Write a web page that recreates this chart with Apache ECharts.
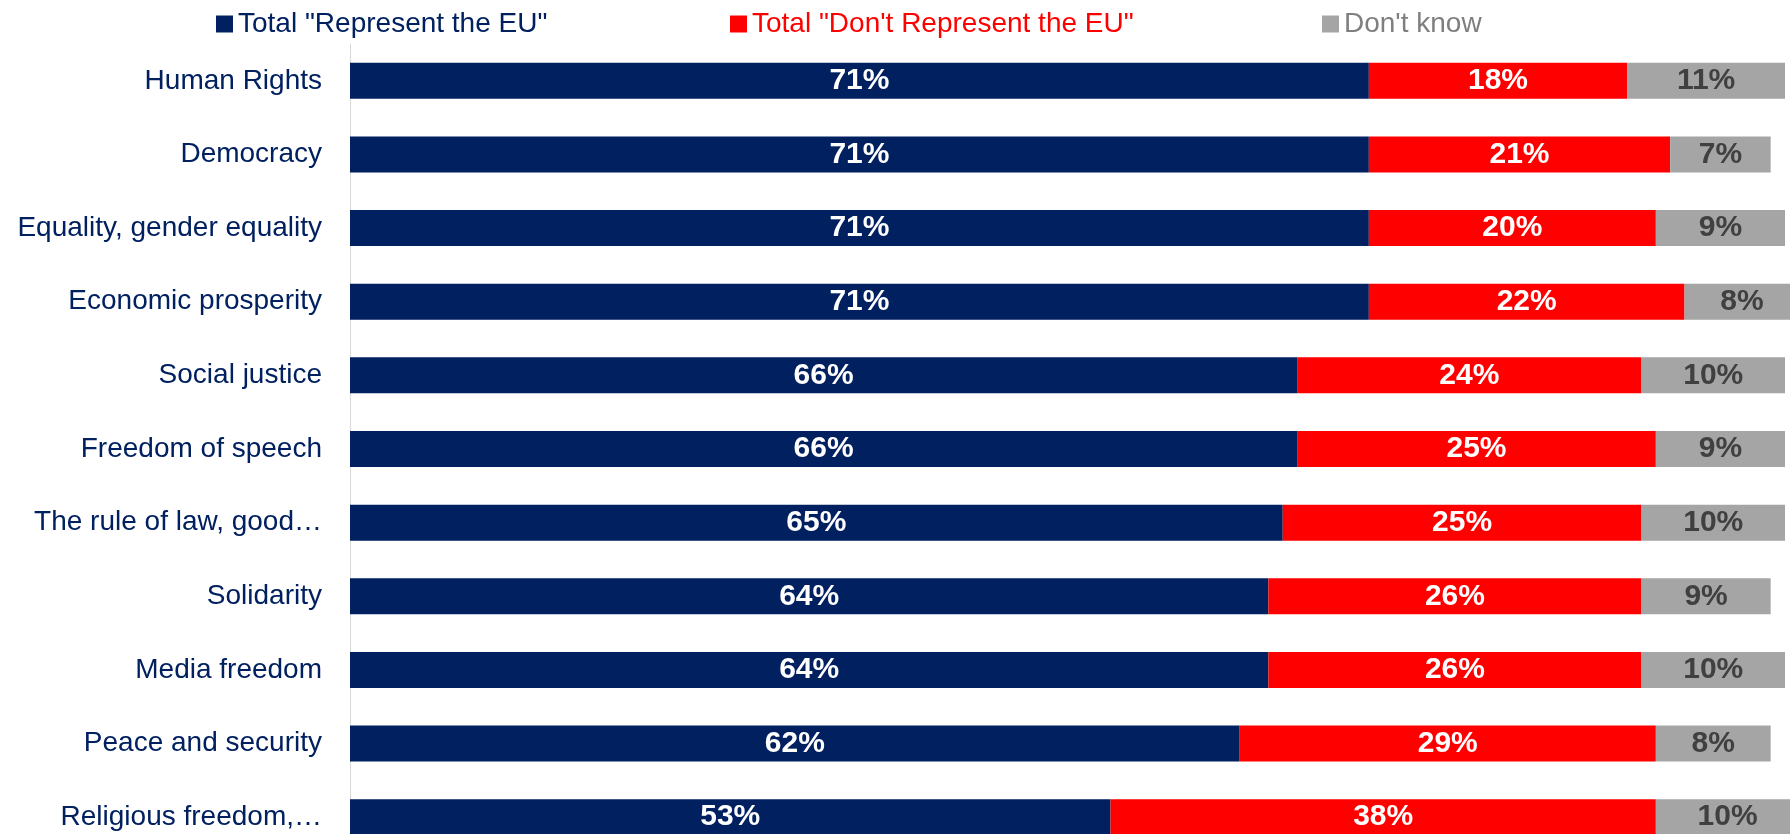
<!DOCTYPE html>
<html>
<head>
<meta charset="utf-8">
<script src="https://cdn.jsdelivr.net/npm/echarts@6/dist/echarts.min.js"></script>
<style>
html, body { margin: 0; padding: 0; background: #fff; }
#main { width: 1790px; height: 834px; }
</style>
</head>
<body>
<div id="main"></div>
<script>
// categories, top to bottom
var categories = ["Human Rights", "Democracy", "Equality, gender equality", "Economic prosperity",
    "Social justice", "Freedom of speech", "The rule of law, good…", "Solidarity",
    "Media freedom", "Peace and security", "Religious freedom,…"];
var represent = [71, 71, 71, 71, 66, 66, 65, 64, 64, 62, 53];
var notRepresent = [18, 21, 20, 22, 24, 25, 25, 26, 26, 29, 38];
var dontKnow = [11, 7, 9, 8, 10, 9, 10, 9, 10, 8, 10];
var seriesNames = ['Total "Represent the EU"', 'Total "Don\'t Represent the EU"', "Don't know"];

var font = "'Liberation Sans', Arial, sans-serif";
var navy = '#002060', red = '#FF0000', grey = '#A5A5A5';

var myChart = echarts.init(document.getElementById('main'));

function legendAt(name, left, color) {
    return {
        data: [name],
        left: left,
        top: 10,
        padding: 0,
        itemWidth: 17,
        itemHeight: 17,
        itemGap: 0,
        icon: 'rect',
        textStyle: { color: color, fontSize: 28, fontFamily: font }
    };
}

function barSeries(name, data, color, labelColor) {
    return {
        name: name,
        type: 'bar',
        stack: 'total',
        data: data,
        barWidth: 36,
        clip: false,
        itemStyle: { color: color },
        label: {
            show: true,
            position: 'inside',
            formatter: '{c}%',
            color: labelColor,
            fontSize: 30,
            fontWeight: 'bold',
            fontFamily: font,
            padding: [5, 0, 0, 0]
        }
    };
}

var option = {
    animation: false,
    legend: [
        legendAt(seriesNames[0], 216, navy),
        legendAt(seriesNames[1], 730, red),
        legendAt(seriesNames[2], 1322, '#7F7F7F')
    ],
    grid: { left: 350, right: 5, top: 44, height: 810, outerBoundsMode: 'none' },
    xAxis: { type: 'value', min: 0, max: 100, show: false },
    yAxis: {
        type: 'category',
        data: categories,
        inverse: true,
        axisLine: { show: true, lineStyle: { color: '#D9D9D9', width: 1 } },
        axisTick: { show: false },
        axisLabel: { color: navy, fontSize: 28, fontFamily: font, margin: 28, padding: [5, 0, 0, 0] }
    },
    series: [
        barSeries(seriesNames[0], represent, navy, '#fff'),
        barSeries(seriesNames[1], notRepresent, red, '#fff'),
        barSeries(seriesNames[2], dontKnow, grey, '#404040')
    ]
};

myChart.setOption(option);
</script>
</body>
</html>
